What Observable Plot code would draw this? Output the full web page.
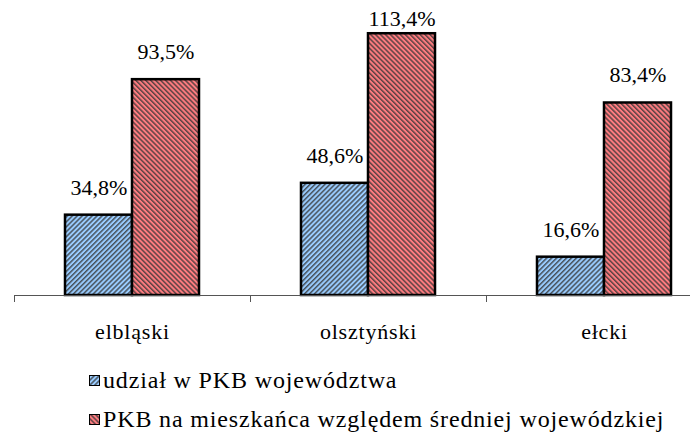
<!DOCTYPE html>
<html>
<head>
<meta charset="utf-8">
<script src="https://cdn.jsdelivr.net/npm/d3@7"></script>
<script src="https://cdn.jsdelivr.net/npm/@observablehq/plot@0.6"></script>
<style>
  html, body { margin: 0; padding: 0; background: #fff; overflow: hidden; }
  #chart { width: 690px; font-family: "Liberation Serif", "Times New Roman", "DejaVu Serif", serif; color: #000; }
  #chart svg text, #chart svg { font-family: "Liberation Serif", "Times New Roman", "DejaVu Serif", serif !important; }
  #chart g[aria-label*="fx-axis"] text { letter-spacing: 0.8px; }
  .legend { padding-left: 89px; padding-top: 11px; font-size: 24px; letter-spacing: 0.85px; }
  .legend .row { display: flex; align-items: center; height: 39px; white-space: nowrap; }
  .legend svg { margin-right: 2px; }
</style>
</head>
<body>
<svg width="0" height="0" style="position:absolute">
  <defs>
    <pattern id="hatch-blue" patternUnits="userSpaceOnUse" width="3.5" height="3.5" patternTransform="rotate(45)">
      <rect width="3.5" height="3.5" fill="#99ccff"></rect>
      <rect width="1.5" height="3.5" fill="#333" fill-opacity="0.8"></rect>
    </pattern>
    <pattern id="hatch-red" patternUnits="userSpaceOnUse" width="3.5" height="3.5" patternTransform="rotate(-45)">
      <rect width="3.5" height="3.5" fill="#ff7c80"></rect>
      <rect width="1.5" height="3.5" fill="#333" fill-opacity="0.8"></rect>
    </pattern>
  </defs>
</svg>
<div id="chart"></div>
<script>
const categories = ["elbląski", "olsztyński", "ełcki"];
const seriesNames = ["udział w PKB województwa", "PKB na mieszkańca względem średniej wojewódzkiej"];
const shareValues = [34.8, 48.6, 16.6];
const perCapitaValues = [93.5, 113.4, 83.4];
const seriesFills = ["url(#hatch-blue)", "url(#hatch-red)"];

const data = categories.flatMap((c, i) => [
  {category: c, series: seriesNames[0], value: shareValues[i]},
  {category: c, series: seriesNames[1], value: perCapitaValues[i]}
]);

const fmt = v => v.toFixed(1).replace(".", ",") + "%";
const serif = '"Liberation Serif", "Times New Roman", "DejaVu Serif", serif';

const plot = Plot.plot({
  width: 690,
  height: 350,
  marginTop: 18,
  marginBottom: 55,
  marginLeft: 14,
  marginRight: -32,
  style: {fontFamily: serif, fontSize: "22px", color: "#000", background: "#fff", overflow: "hidden"},
  fx: {domain: categories, padding: 0, label: null, tickSize: 0, tickPadding: 28, axis: "bottom"},
  x: {domain: seriesNames, paddingInner: 0, paddingOuter: 0.75, axis: null},
  y: {domain: [0, 120], axis: null},
  color: {domain: seriesNames, range: seriesFills},
  marks: [
    Plot.barY(data, {fx: "category", x: "series", y: "value", fill: "series", stroke: "#000", strokeWidth: 2.5}),
    Plot.ruleY([0], {stroke: "#555", strokeWidth: 1}),
    Plot.text(data, {
      fx: "category", x: "series",
      y: d => Math.min(d.value + 12, 120),
      text: d => fmt(d.value),
      fontSize: 22, fill: "#000"
    })
  ]
});

document.getElementById("chart").appendChild(plot);

// boundary ticks between category groups, from Plot's fx scale
const fxs = plot.scale("fx");
const ys = plot.scale("y");
if (fxs && ys) {
  const band = d3.scaleBand().domain(fxs.domain).range(fxs.range)
    .paddingInner(fxs.paddingInner ?? 0).paddingOuter(fxs.paddingOuter ?? 0).align(fxs.align ?? 0.5);
  const y0 = d3.scaleLinear().domain(ys.domain).range(ys.range)(0);
  const g = d3.select(plot).append("g").attr("stroke", "#555").attr("stroke-width", 1);
  for (const c of categories) {
    const xx = Math.round(band(c)) + 0.5;
    g.append("line").attr("x1", xx).attr("x2", xx).attr("y1", y0).attr("y2", y0 + 7);
  }
}

// legend
const legend = d3.select("#chart").append("div").attr("class", "legend");
seriesNames.forEach((s, i) => {
  const row = legend.append("div").attr("class", "row");
  const sw = row.append("svg").attr("width", 12).attr("height", 12);
  sw.append("rect").attr("x", 0.5).attr("y", 0.5).attr("width", 10).attr("height", 10)
    .attr("fill", seriesFills[i]).attr("stroke", "#000").attr("stroke-width", 1);
  row.append("span").text(s);
});
</script>
</body>
</html>
